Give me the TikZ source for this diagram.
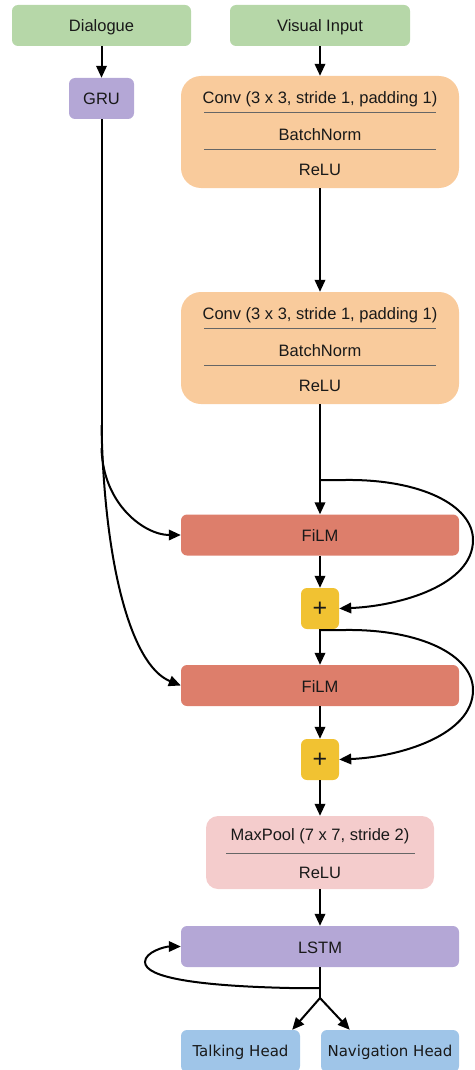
\documentclass[tikz,border=0pt]{standalone}
\usepackage{fontspec}
\setmainfont{Liberation Sans}
\newfontfamily\dvs{DejaVu Sans}
\usetikzlibrary{arrows.meta,calc}
\definecolor{cgreen}{HTML}{B6D7A8}
\definecolor{cpurple}{HTML}{B4A7D6}
\definecolor{corange}{HTML}{F9CB9C}
\definecolor{cred}{HTML}{DD7E6B}
\definecolor{cyellow}{HTML}{F1C232}
\definecolor{cpink}{HTML}{F4CCCC}
\definecolor{cblue}{HTML}{9FC5E8}
\tikzset{
  box/.style={rounded corners=6pt, inner sep=0pt, font=\fontsize{16.5}{19}\selectfont, text=black!90, text height=13pt, text depth=0pt},
  lbl/.style={inner sep=0pt, font=\fontsize{16.5}{19}\selectfont, text=black!90, text height=13pt, text depth=0pt},
  sep/.style={draw=black!60, line width=0.9pt},
  arr/.style={draw=black, line width=2pt, -{Triangle[length=12pt,width=10.5pt]}},
  ln/.style={draw=black, line width=2pt},
}
\begin{document}
\begin{tikzpicture}[x=1pt,y=-1pt]
\useasboundingbox (0,0) rectangle (474,1070);
% top inputs
\node[box, fill=cgreen, minimum width=179pt, minimum height=41pt] (dlg) at (101.5,25.5) {Dialogue};
\node[box, fill=cgreen, minimum width=180pt, minimum height=41pt] (vis) at (320,25.5) {Visual Input};
\node[box, fill=cpurple, minimum width=65pt, minimum height=41pt] (gru) at (101.5,98.5) {GRU};
% conv blocks
\node[box, rounded corners=20pt, fill=corange, minimum width=278pt, minimum height=112pt] (conv1) at (320,132) {};
\node[lbl] (c1a) at (320,97) {Conv (3 x 3, stride 1, padding 1)};
\node[lbl] (c1b) at (320,133.5) {BatchNorm};
\node[lbl] (c1c) at (320,169) {ReLU};
\draw[sep] (204,112) -- (436,112);
\draw[sep] (204,149) -- (436,149);
\node[box, rounded corners=20pt, fill=corange, minimum width=278pt, minimum height=112pt] (conv2) at (320,348) {};
\node[lbl] (c2a) at (320,313) {Conv (3 x 3, stride 1, padding 1)};
\node[lbl] (c2b) at (320,349.5) {BatchNorm};
\node[lbl] (c2c) at (320,385) {ReLU};
\draw[sep] (204,328) -- (436,328);
\draw[sep] (204,365) -- (436,365);
% FiLM and plus
\node[box, fill=cred, minimum width=278pt, minimum height=41pt] (film1) at (320,535) {FiLM};
\node[box, fill=cyellow, minimum width=38pt, minimum height=41pt, font=\fontsize{25}{26}\selectfont, text height=15pt, text depth=0pt] (plus1) at (320,608.5) {+};
\node[box, fill=cred, minimum width=278pt, minimum height=41pt] (film2) at (320,685.5) {FiLM};
\node[box, fill=cyellow, minimum width=38pt, minimum height=41pt, font=\fontsize{25}{26}\selectfont, text height=15pt, text depth=0pt] (plus2) at (320,759.5) {+};
% maxpool
\node[box, rounded corners=12pt, fill=cpink, minimum width=228pt, minimum height=73pt] (mp) at (320,852.5) {};
\node[lbl] (mpa) at (320,834) {MaxPool (7 x 7, stride 2)};
\node[lbl] (mpb) at (320,871.5) {ReLU};
\draw[sep] (226,853) -- (415,853);
% LSTM and heads
\node[box, fill=cpurple, minimum width=278pt, minimum height=41pt] (lstm) at (320,946.5) {LSTM};
\node[box, fill=cblue, minimum width=119pt, minimum height=42pt, font=\dvs\fontsize{15}{18}\selectfont, text height=10pt] (th) at (240.5,1051) {Talking Head};
\node[box, fill=cblue, minimum width=138pt, minimum height=42pt, font=\dvs\fontsize{15}{18}\selectfont, text height=10pt] (nh) at (390,1051) {Navigation Head};
% connectors
\draw[arr] (dlg) -- (gru);
\draw[arr] (vis) -- (conv1);
\draw[arr] (conv1) -- (conv2);
\coordinate (g1) at (101.5,448);
\coordinate (g2) at (101.5,425);
\draw[ln] (gru.south) -- (g1);
\draw[arr] (g1) .. controls (103,505) and (145,535) .. (film1.west);
\draw[arr] (g2) .. controls (104,560) and (130,665) .. (film1.west |- film2.west);
\draw[arr] (conv2) -- (film1);
\coordinate (s1) at (320,480);
\draw[arr] (s1) -- (345,480) .. controls (420,479) and (473,505) .. (473,540) .. controls (473,585) and (400,606) .. (plus1.east);
\draw[arr] (film1) -- (plus1);
\draw[arr] (plus1) -- (film2);
\coordinate (s2) at (320,630);
\draw[arr] (s2) -- (345,630) .. controls (420,629) and (473,655) .. (473,690) .. controls (473,735) and (400,757) .. (plus2.east);
\draw[arr] (film2) -- (plus2);
\draw[arr] (plus2) -- (mp);
\draw[arr] (mp) -- (lstm);
\coordinate (lp) at (320,988);
\coordinate (sp) at (320,998);
\draw[ln] (lstm.south) -- (sp);
\draw[arr] (lp) -- (290,988) .. controls (200,986) and (145,978) .. (145,962) .. controls (145,952) and (165,946.5) .. (lstm.west);
\draw[arr] (sp) -- ([xshift=-8pt]th.north east);
\draw[arr] (sp) -- ([xshift=29pt]nh.north west);
\end{tikzpicture}
\end{document}
